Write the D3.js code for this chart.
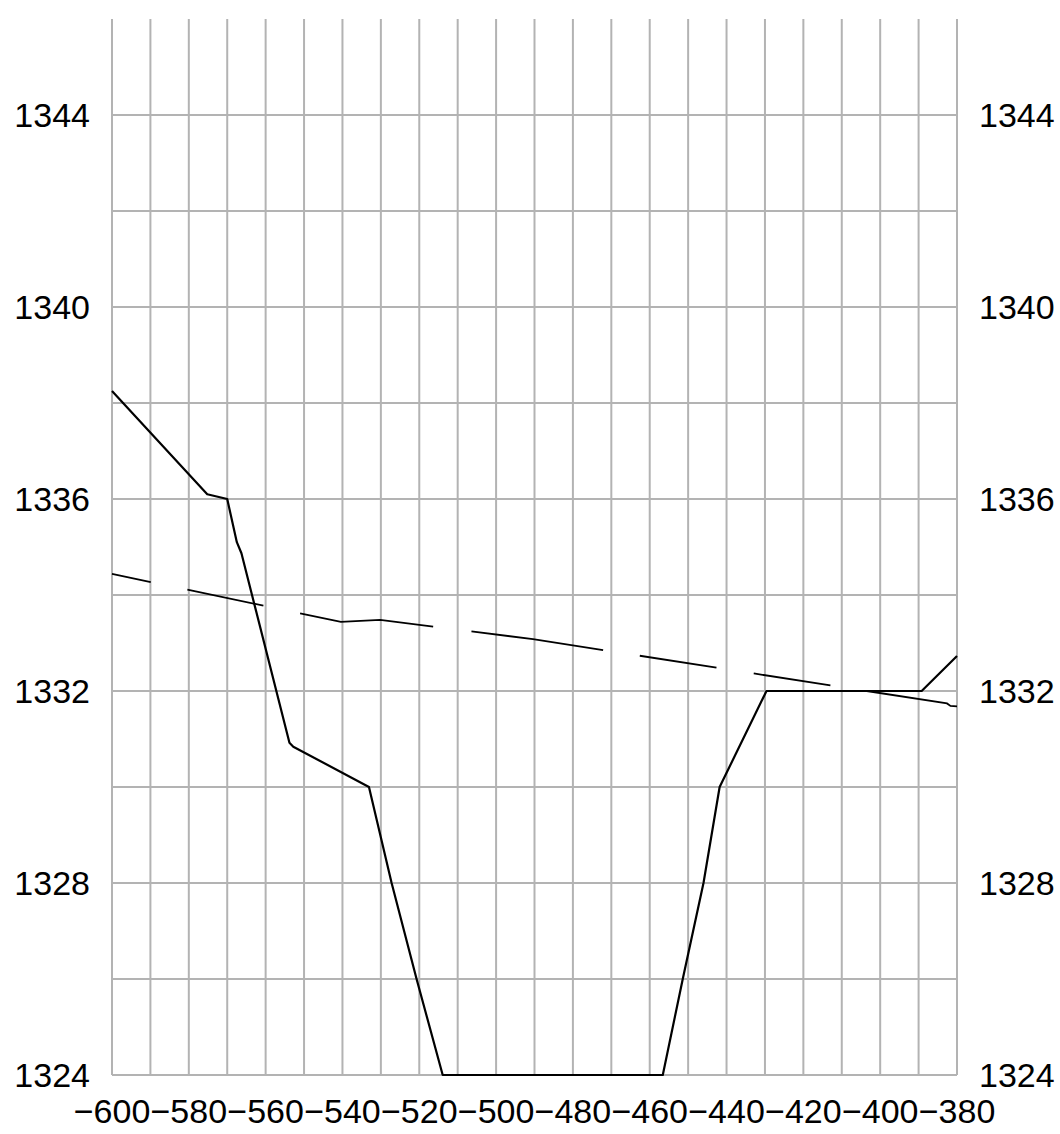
<!DOCTYPE html>
<meta charset="utf-8">
<html>
    <head>
        <script src="https://d3js.org/d3.v7.min.js"></script>
    </head>
    <style>
        body { margin: 0; background: #fff; }
    </style>
    <body>

        <div id="profile_viz"></div>

        <script>

            // ground profile (solid)
            var groundX = [-600, -575.2, -570, -567.5, -566.3, -553.8, -552.8, -533.1, -527.2, -520.7, -513.9, -456.6, -451.4, -446.0, -441.8, -429.6, -389.2, -380];
            var groundY = [1338.25, 1336.1, 1336.0, 1335.1, 1334.87, 1330.92, 1330.84, 1330.0, 1328.0, 1326.0, 1324.0, 1324.0, 1326.0, 1328.0, 1330.0, 1332.0, 1332.0, 1332.73];

            // water surface (dashed)
            var waterX = [-600, -540.4, -530.2, -490.4, -382.6, -381.7, -380];
            var waterY = [1334.44, 1333.44, 1333.48, 1333.08, 1331.74, 1331.69, 1331.68];

            var xTicks = d3.range(-600, -379, 20);
            var yTicks = d3.range(1324, 1345, 4);
            var xGrid = d3.range(-600, -379, 10);
            var yGrid = d3.range(1324, 1345, 2);

            var width = 1060, height = 1134;

            var x = d3.scaleLinear().domain([-600, -380]).range([112, 957]);
            var y = d3.scaleLinear().domain([1324, 1346]).range([1075, 19]);

            var svg = d3.select("#profile_viz")
                .append("svg")
                .attr("width", width)
                .attr("height", height);

            // grid
            svg.append("g")
                .attr("stroke", "#b3b3b3")
                .attr("stroke-width", 2)
                .selectAll("line")
                .data(xGrid)
                .join("line")
                .attr("x1", d => x(d)).attr("x2", d => x(d))
                .attr("y1", y(1346)).attr("y2", y(1324));

            svg.append("g")
                .attr("stroke", "#b3b3b3")
                .attr("stroke-width", 2)
                .selectAll("line")
                .data(yGrid)
                .join("line")
                .attr("x1", x(-600)).attr("x2", x(-380))
                .attr("y1", d => y(d)).attr("y2", d => y(d));

            var line = d3.line().x(i => i[0]).y(i => i[1]);

            var ground = groundX.map((v, i) => [x(v), y(groundY[i])]);
            var water = waterX.map((v, i) => [x(v), y(waterY[i])]);

            svg.append("path")
                .attr("d", line(water))
                .attr("fill", "none")
                .attr("stroke", "#000")
                .attr("stroke-width", 1.8)
                .attr("stroke-dasharray", "39.6 37.4 77.7 37.5 134.4 38.6 133 37.1 77.6 37.7 77.6 36.7 200");

            svg.append("path")
                .attr("d", line(ground))
                .attr("fill", "none")
                .attr("stroke", "#000")
                .attr("stroke-width", 2.2)
                .attr("stroke-linejoin", "round");

            // labels
            var font = "'Liberation Sans', Arial, sans-serif";

            svg.append("g")
                .attr("font-family", font)
                .attr("font-size", 34)
                .attr("text-anchor", "end")
                .selectAll("text")
                .data(yTicks)
                .join("text")
                .attr("x", 90)
                .attr("y", d => y(d))
                .attr("dy", "0.36em")
                .text(d => d);

            svg.append("g")
                .attr("font-family", font)
                .attr("font-size", 34)
                .attr("text-anchor", "start")
                .selectAll("text")
                .data(yTicks)
                .join("text")
                .attr("x", 979)
                .attr("y", d => y(d))
                .attr("dy", "0.36em")
                .text(d => d);

            svg.append("g")
                .attr("font-family", font)
                .attr("font-size", 34)
                .attr("text-anchor", "middle")
                .selectAll("text")
                .data(xTicks)
                .join("text")
                .attr("x", d => x(d))
                .attr("y", y(1324) + 48)
                .text(d => "\u2212" + Math.abs(d));

        </script>
    </body>
</html>
